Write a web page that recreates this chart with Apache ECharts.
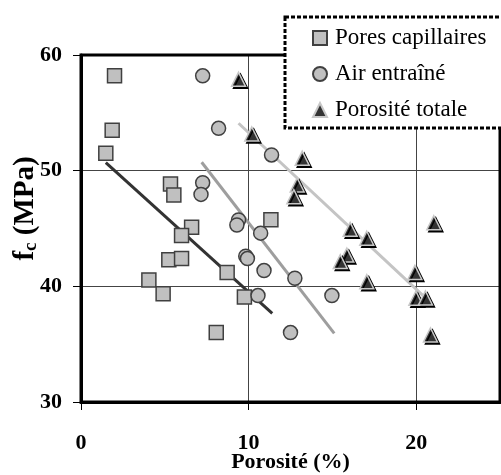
<!DOCTYPE html>
<html>
<head>
<meta charset="utf-8">
<script src="https://cdn.jsdelivr.net/npm/echarts@6/dist/echarts.min.js"></script>
<style>html,body{margin:0;padding:0;background:#fff;}#c{width:501px;height:475px;}</style>
</head>
<body>
<div id="c"></div>
<script>
// ---- data ----
const seriesNames = ['Pores capillaires', 'Air entraîné', 'Porosité totale'];
const xTitle = 'Porosité (%)';

const squaresX = [2.0, 1.86, 1.48, 5.34, 5.54, 6.6, 6.0, 5.24, 6.0, 8.72, 4.05, 4.9, 9.75, 8.07, 11.33];
const squaresY = [58.2, 53.5, 51.5, 48.85, 47.9, 45.1, 44.4, 42.3, 42.4, 41.2, 40.55, 39.35, 39.07, 36.0, 45.75];

const circlesX = [7.26, 8.21, 7.26, 7.16, 11.37, 9.4, 9.3, 10.72, 9.83, 9.93, 10.92, 12.76, 10.56, 14.97, 12.5];
const circlesY = [58.2, 53.66, 48.96, 47.95, 51.36, 45.74, 45.3, 44.6, 42.6, 42.4, 41.36, 40.7, 39.2, 39.2, 36.0];

const trianglesX = [9.4, 10.19, 13.2, 12.9, 12.7, 16.06, 17.05, 15.86, 15.47, 17.05, 21.05, 19.92, 19.98, 20.55, 20.85];
const trianglesY = [57.9, 53.17, 51.07, 48.76, 47.75, 44.93, 44.16, 42.7, 42.14, 40.4, 45.5, 41.2, 38.97, 39.0, 35.8];

const fitSquaresX = [1.48, 11.41];
const fitSquaresY = [50.7, 37.67];
const fitCirclesX = [7.2, 15.11];
const fitCirclesY = [50.73, 35.94];
const fitTotalX = [9.4, 21.0];
const fitTotalY = [54.1, 38.4];

const xMin = 0, xMax = 25, xStep = 10;
const yMin = 30, yMax = 60, yStep = 10;

// ---- build ----
const pairs = (xs, ys) => xs.map((x, i) => [x, ys[i]]);
const serif = '"Liberation Serif", "Times New Roman", serif';

const chart = echarts.init(document.getElementById('c'), null, {renderer: 'canvas'});

const fitLine = (name, xs, ys, color) => ({
  name: name, type: 'line', data: pairs(xs, ys), symbol: 'none', silent: true,
  lineStyle: {color: color, width: 3}, z: 2, animation: false
});

chart.setOption({
  animation: false,
  backgroundColor: '#fff',
  grid: {left: 81, top: 55, right: 1, bottom: 73, outerBoundsMode: 'none', containLabel: false,
    show: true, borderColor: '#000', borderWidth: 3, backgroundColor: 'transparent', z: 3},
  xAxis: {
    type: 'value', min: xMin, max: xMax, interval: xStep,
    name: xTitle, nameLocation: 'middle', nameGap: 49, nameMoveOverlap: false,
    nameTextStyle: {fontFamily: serif, fontWeight: 'bold', fontSize: 22, color: '#000'},
    axisLine: {show: true, lineStyle: {color: '#000', width: 3}},
    axisTick: {show: true, inside: false, length: 8, lineStyle: {color: '#000', width: 1}},
    axisLabel: {fontFamily: serif, fontWeight: 'bold', fontSize: 22, color: '#000', margin: 30, showMaxLabel: false},
    splitLine: {show: true, lineStyle: {color: '#444', width: 1}}
  },
  yAxis: {
    type: 'value', min: yMin, max: yMax, interval: yStep,
    name: '{a|f}{b|c}{a| (MPa)}', nameLocation: 'middle', nameGap: 40, nameMoveOverlap: false,
    nameTextStyle: {
      padding: [0, 0, 0, 40],
      rich: {
        a: {fontFamily: serif, fontWeight: 'bold', fontSize: 29, color: '#000'},
        b: {fontFamily: serif, fontWeight: 'bold', fontSize: 19, color: '#000', padding: [11, 0, 0, 0]}
      }
    },
    axisLine: {show: true, lineStyle: {color: '#000', width: 3}},
    axisTick: {show: true, inside: false, length: 8, lineStyle: {color: '#000', width: 1}},
    axisLabel: {fontFamily: serif, fontWeight: 'bold', fontSize: 22, color: '#000', margin: 19},
    splitLine: {show: true, lineStyle: {color: '#444', width: 1}}
  },
  legend: {
    data: seriesNames,
    orient: 'vertical', left: 312, top: 26, padding: 0,
    itemWidth: 14, itemHeight: 14, itemGap: 12,
    textStyle: {fontFamily: serif, fontSize: 23, color: '#000', lineHeight: 24, padding: [0, 0, 0, 3]},
    z: 20
  },
  graphic: [{
    type: 'rect', z: 15, zlevel: 0,
    shape: {x: 285, y: 17, width: 218, height: 111},
    style: {fill: '#fff', stroke: '#000', lineWidth: 3, lineDash: [4, 2]}
  }],
  series: [
    fitLine('fitSquares', fitSquaresX, fitSquaresY, '#333333'),
    fitLine('fitCircles', fitCirclesX, fitCirclesY, '#9e9e9e'),
    fitLine('fitTotal', fitTotalX, fitTotalY, '#c4c4c4'),
    {
      name: seriesNames[0], type: 'scatter', data: pairs(squaresX, squaresY),
      symbol: 'rect', symbolSize: 14, z: 4,
      itemStyle: {color: '#c0c0c0', borderColor: '#404040', borderWidth: 1.5, opacity: 1}
    },
    {
      name: seriesNames[1], type: 'scatter', data: pairs(circlesX, circlesY),
      symbol: 'circle', symbolSize: 14, z: 4,
      itemStyle: {color: '#c0c0c0', borderColor: '#404040', borderWidth: 1.5, opacity: 1}
    },
    {
      name: seriesNames[2], type: 'scatter', data: pairs(trianglesX, trianglesY),
      symbol: 'triangle', symbolSize: 14, z: 4,
      itemStyle: {color: '#333333', borderColor: '#c8c8c8', borderWidth: 1.5, opacity: 1,
        shadowColor: '#000', shadowBlur: 0, shadowOffsetX: 2, shadowOffsetY: 2}
    }
  ]
});
</script>
</body>
</html>
